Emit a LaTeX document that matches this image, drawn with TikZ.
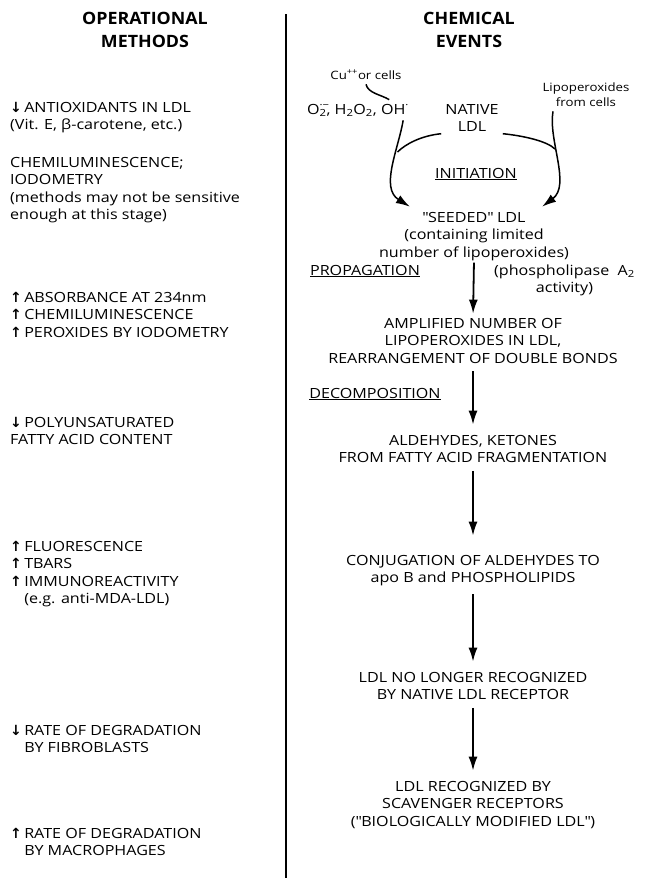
\documentclass[tikz,border=0pt]{standalone}
\usepackage{fontspec}
\setmainfont{Open Sans}[FakeStretch=1.15]
\newfontfamily\headfont{Open Sans}[FakeStretch=1.05]
\newfontfamily\symfont{DejaVu Sans}
\usetikzlibrary{positioning}
\usetikzlibrary{arrows.meta}
\tikzset{>={Latex[width=9pt,length=14pt]}}
\newcommand{\up}{{\symfont\bfseries ↑}\,}
\newcommand{\down}{{\symfont\bfseries ↓}\,}

\begin{document}
\begin{tikzpicture}[x=1pt, y=1pt, head/.style={align=center, anchor=base, inner sep=0pt, font=\headfont\fontsize{17}{23}\selectfont\bfseries}, event/.style={align=center, anchor=base, inner sep=0pt, font=\fontsize{14}{17.5}\selectfont}, method/.style={align=left, anchor=base west, inner sep=0pt, font=\fontsize{14}{17.5}\selectfont}, small/.style={align=center, anchor=base, inner sep=0pt, font=\fontsize{11.5}{15}\selectfont}, flow/.style={->, line width=1.8pt, shorten <=8pt, shorten >=10pt}, feed/.style={->, line width=1.5pt}, thinline/.style={line width=1.5pt}]
    \useasboundingbox (0,0) rectangle (649,-881);

    %Headers
    \node[head](methods) at (145,-47) {OPERATIONAL\\METHODS};
    \node[head](chemical) at (469,-47) {CHEMICAL\\EVENTS};
    \draw[line width=1.2pt] (286,-14) -- (286,-878);

    %Left column (anchored at the baseline of the last line)
    \node[method](antiox) at (10,-129.5) {\down ANTIOXIDANTS IN LDL\\(Vit. E, β-carotene, etc.)};
    \node[method](chemilum) at (10,-219.5) {CHEMILUMINESCENCE;\\IODOMETRY\\(methods may not be sensitive\\enough at this stage)};
    \node[method](absorb) at (10,-337) {\up ABSORBANCE AT 234nm\\\up CHEMILUMINESCENCE\\\up PEROXIDES BY IODOMETRY};
    \node[method](pufa) at (10,-444.5) {\down POLYUNSATURATED\\FATTY ACID CONTENT};
    \node[method](fluor) at (10,-603.5) {\up FLUORESCENCE\\\up TBARS\\\up IMMUNOREACTIVITY\\\phantom{\up}(e.g. anti-MDA-LDL)};
    \node[method](ratefib) at (10,-752.5) {\down RATE OF DEGRADATION\\\phantom{\down}BY FIBROBLASTS};
    \node[method](ratemac) at (10,-855.5) {\up RATE OF DEGRADATION\\\phantom{\up}BY MACROPHAGES};

    %Initiation
    \node[small](cu) at (366,-79) {Cu\textsuperscript{++}or cells};
    \node[event](radicals) at (358,-114) {O\rlap{\textsuperscript{·−}}\textsubscript{2}, H\textsubscript{2}O\textsubscript{2}, OH\textsuperscript{·}};
    \node[event](native) at (472,-131.5) {NATIVE\\LDL};
    \node[small](lipo) at (586,-106) {Lipoperoxides\\from cells};
    \node[event](initiation) at (476,-178) {\underline{INITIATION}};
    \node[event](seeded) at (474,-257) {\textquotedbl SEEDED\textquotedbl\ LDL\\(containing limited\\number of lipoperoxides)};
    \coordinate (ljoin) at (397.5,-152);
    \coordinate (rjoin) at (555,-149);

    %Chain
    \node[event](amplified) at (473,-363) {AMPLIFIED NUMBER OF\\LIPOPEROXIDES IN LDL,\\REARRANGEMENT OF DOUBLE BONDS};
    \node[event](aldehydes) at (473,-462.5) {ALDEHYDES, KETONES\\FROM FATTY ACID FRAGMENTATION};
    \node[event](conjugation) at (473,-582.5) {CONJUGATION OF ALDEHYDES TO\\apo B and PHOSPHOLIPIDS};
    \node[event](nolonger) at (473,-699.5) {LDL NO LONGER RECOGNIZED\\BY NATIVE LDL RECEPTOR};
    \node[event](scavenger) at (473,-826) {LDL RECOGNIZED BY\\SCAVENGER RECEPTORS\\(\textquotedbl BIOLOGICALLY MODIFIED LDL\textquotedbl)};
    \node[event](propagation) at (365,-275) {\underline{PROPAGATION}};
    \node[event, anchor=base west](phospho) at (494,-292.5) {(phospholipase~~A\textsubscript{2}\\activity)};
    \node[event](decomposition) at (375,-398) {\underline{DECOMPOSITION}};

    %Lines
    \draw[thinline] ([yshift=-5pt]cu.south) .. controls +(2,-9) and +(-8,5) .. ([xshift=-20pt,yshift=4pt]radicals.north east);
    \draw[feed] ([xshift=-6pt,yshift=-4pt]radicals.south east) .. controls (398,-150) and (380,-188) .. ([xshift=31pt,yshift=5pt]seeded.north west);
    \draw[thinline] ([xshift=-4pt,yshift=-2pt]native.south west) .. controls +(-20,-2) and +(8,8) .. (ljoin);
    \draw[feed] ([xshift=-33pt,yshift=-5pt]lipo.south) .. controls (548,-140) and (571,-185) .. ([xshift=-27pt,yshift=5pt]seeded.north east);
    \draw[thinline] ([xshift=4pt,yshift=-2pt]native.south east) .. controls +(20,-2) and +(-8,8) .. (rjoin);
    \draw[flow, shorten <=2pt, shorten >=4pt] (seeded.south) -- (amplified.north);
    \draw[flow] (amplified.south) -- (aldehydes.north);
    \draw[flow, shorten >=19pt] (aldehydes.south) -- (conjugation.north);
    \draw[flow] (conjugation.south) -- (nolonger.north);
    \draw[flow] (nolonger.south) -- (scavenger.north);
\end{tikzpicture}
\end{document}
